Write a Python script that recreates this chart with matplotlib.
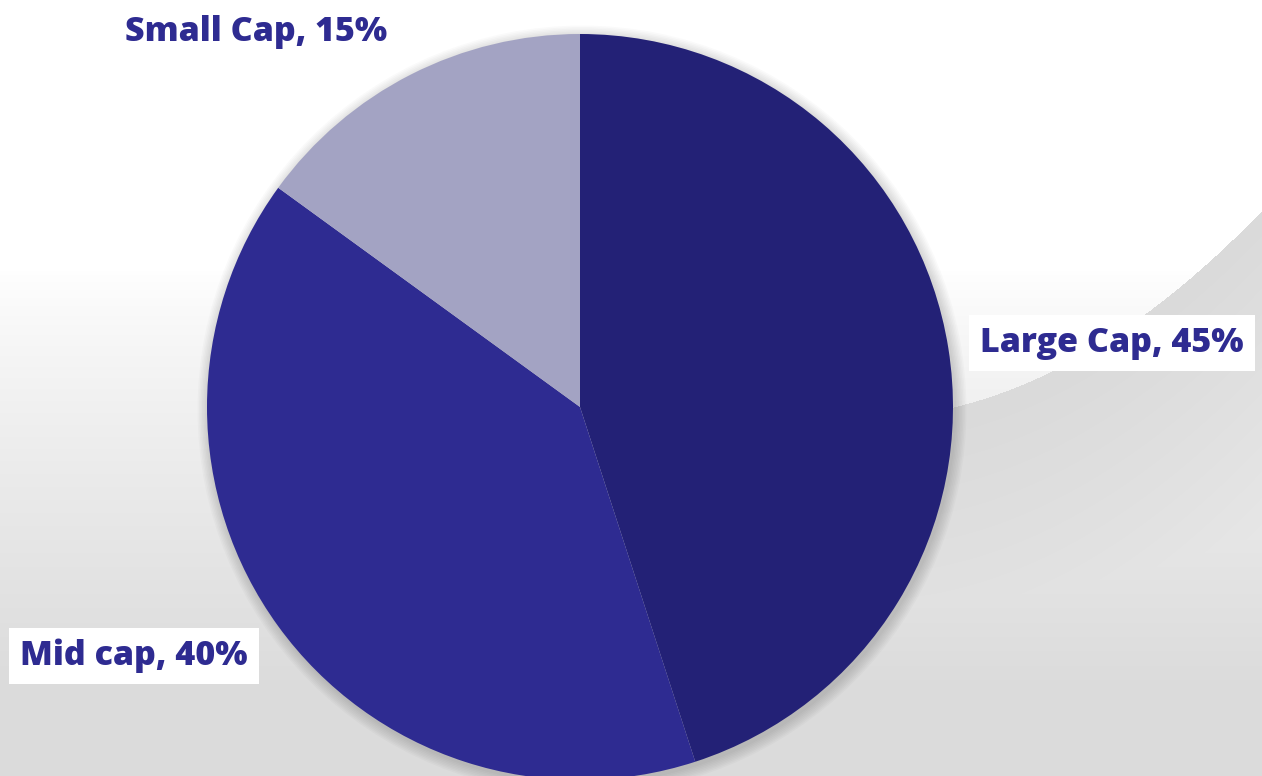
import matplotlib
matplotlib.use("Agg")
import matplotlib.pyplot as plt
import numpy as np

# data
labels = ["Large Cap", "Mid cap", "Small Cap"]
shares = [45, 40, 15]
colors = ["#232176", "#2e2b91", "#a3a3c3"]
text_color = "#2e2b91"

W, H = 1262, 776
fig = plt.figure(figsize=(W / 100, H / 100), dpi=100)
ax = fig.add_axes([0, 0, 1, 1])
ax.set_xlim(0, W)
ax.set_ylim(0, H)
ax.axis("off")

# slide background: soft grey fading in from below, plus a sharp grey swoosh at right
xx, top = np.meshgrid(np.arange(W), np.arange(H))  # top = pixel row from top
t = np.clip((top - 270) / 420.0, 0, 1)
bg = 1.0 - 0.14 * t ** 0.8
# right swoosh boundary through (953,407), (1150,310), (1262,210)
px = np.array([953, 1150, 1262])
py = np.array([407, 310, 210])
cf = np.polyfit(px, py, 2)
yb = np.polyval(cf, xx)
right = (xx > 900) & (top > yb)
shade = 0.855 + 0.06 * np.clip((top - yb) / 400.0, 0, 1)
bg = np.where(right, np.minimum(bg, shade), bg)
ax.imshow(np.dstack([bg, bg, bg]), extent=[0, W, 0, H], origin="upper", zorder=0, aspect="auto")

cx, cy, r = 580, H - 407, 373

# soft shadow round the pie
for k in range(8):
    c = plt.Circle((cx + 2, cy - 3), r + 1 + k * 1.5, color="black", alpha=0.02, lw=0, zorder=1)
    ax.add_patch(c)

wedges, _ = ax.pie(shares, colors=colors, startangle=90, counterclock=False,
                   center=(cx, cy), radius=r, frame=True,
                   wedgeprops=dict(linewidth=0))
for w in wedges:
    w.set_zorder(2)
ax.set_xlim(0, W)
ax.set_ylim(0, H)
ax.axis("off")

label_pos = [(1112, H - 343), (134, H - 656), (256, H - 32)]
for lab, s, (lx, ly) in zip(labels, shares, label_pos):
    ax.text(lx, ly, f"{lab}, {s}%", ha="center", va="center", color=text_color,
            fontsize=24.5, fontweight=800, family="Open Sans", zorder=5,
            bbox=dict(boxstyle="square,pad=0.32", fc="white", ec="none"))

fig.savefig("out.png", dpi=100)
